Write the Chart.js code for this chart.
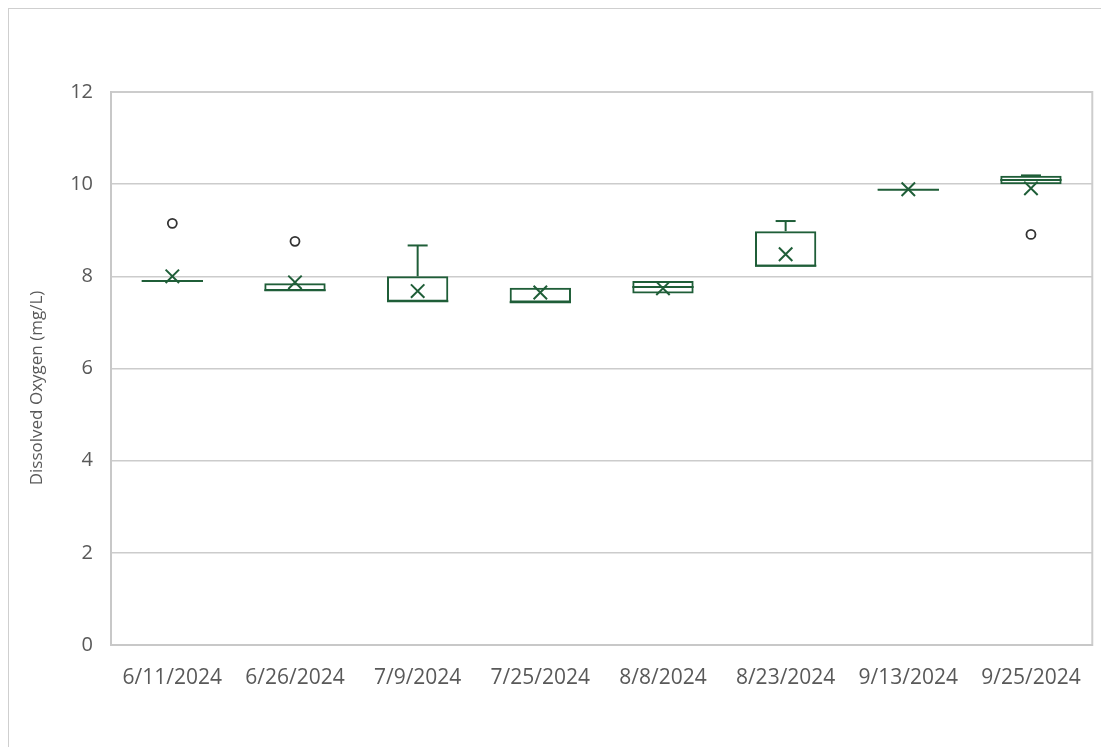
<!DOCTYPE html>
<html lang="en">
<head>
<meta charset="UTF-8">
<title>Dissolved Oxygen</title>
<script src="https://cdn.jsdelivr.net/npm/chart.js@4.4.1/dist/chart.umd.min.js"></script>
<style>
  html, body { margin: 0; padding: 0; background: #fff; }
  #wrap { position: relative; width: 1101px; height: 747px; }
  #frame { position: absolute; left: 8px; top: 8px; right: -2px; bottom: -2px;
           border-left: 1px solid #cfcfcf; border-top: 1px solid #cfcfcf; }
  canvas { position: absolute; left: 0; top: 0; }
</style>
</head>
<body>
<div id="wrap">
  <div id="frame"></div>
  <canvas id="myChart" width="1101" height="747"></canvas>
</div>
<script>
// sampling dates and box plot values (mg/L)
const dates = ['6/11/2024', '6/26/2024', '7/9/2024', '7/25/2024', '8/8/2024', '8/23/2024', '9/13/2024', '9/25/2024'];
const whiskerLow = [7.89, 7.68, 7.45, 7.43, 7.63, 8.21, 9.87, 10.0];
const q1 = [7.89, 7.68, 7.45, 7.43, 7.63, 8.21, 9.87, 10.0];
const median = [7.90, 7.70, 7.46, 7.44, 7.77, 8.23, 9.88, 10.09];
const q3 = [7.91, 7.85, 8.00, 7.75, 7.90, 8.98, 9.89, 10.18];
const whiskerHigh = [7.91, 7.85, 8.67, 7.75, 7.90, 9.20, 9.89, 10.19];
const means = [8.00, 7.87, 7.68, 7.65, 7.74, 8.48, 9.89, 9.91];
const outliers = [9.15, 8.76, null, null, null, null, null, 8.91];
const yTicks = [0, 2, 4, 6, 8, 10, 12];
const yTitle = 'Dissolved Oxygen (mg/L)';

const green = '#1f5e38';

const boxExtras = {
  id: 'boxExtras',
  afterDatasetsDraw(chart) {
    const ctx = chart.ctx;
    const xs = chart.scales.x, ys = chart.scales.y;
    const bars = chart.getDatasetMeta(0).data;
    ctx.save();
    ctx.strokeStyle = green;
    ctx.lineWidth = 2;
    dates.forEach((d, i) => {
      const cx = xs.getPixelForValue(i);
      const half = bars[i].width / 2;
      const cap = 10;
      const line = (x1, y1, x2, y2) => {
        ctx.beginPath(); ctx.moveTo(x1, y1); ctx.lineTo(x2, y2); ctx.stroke();
      };
      // whiskers
      if (whiskerHigh[i] > q3[i]) {
        line(cx, ys.getPixelForValue(q3[i]), cx, ys.getPixelForValue(whiskerHigh[i]));
        line(cx - cap, ys.getPixelForValue(whiskerHigh[i]), cx + cap, ys.getPixelForValue(whiskerHigh[i]));
      }
      if (whiskerLow[i] < q1[i]) {
        line(cx, ys.getPixelForValue(q1[i]), cx, ys.getPixelForValue(whiskerLow[i]));
        line(cx - cap, ys.getPixelForValue(whiskerLow[i]), cx + cap, ys.getPixelForValue(whiskerLow[i]));
      }
      // median
      const my = ys.getPixelForValue(median[i]);
      line(cx - half, my, cx + half, my);
    });
    ctx.restore();
  }
};

// y title drawn by hand so it can sit a bit below the plot centre like the original
const axisTitle = {
  id: 'axisTitle',
  afterDraw(chart) {
    const c = chart.ctx;
    c.save();
    c.translate(37, 388);
    c.rotate(-Math.PI / 2);
    c.font = '17px "Open Sans"';
    c.fillStyle = '#595959';
    c.textAlign = 'center';
    c.textBaseline = 'middle';
    c.fillText(yTitle, 0, 0);
    c.restore();
  }
};

const ctx = document.getElementById('myChart').getContext('2d');
const myChart = new Chart(ctx, {
  type: 'bar',
  data: {
    labels: dates,
    datasets: [
      {
        label: 'Box',
        data: q1.map((v, i) => [v, q3[i]]),
        backgroundColor: 'rgba(255,255,255,0)',
        borderColor: green,
        borderWidth: 2,
        borderSkipped: false,
        categoryPercentage: 1,
        barPercentage: 0.5,
        order: 2
      },
      {
        type: 'line',
        label: 'Mean',
        data: means,
        showLine: false,
        pointStyle: 'crossRot',
        pointRadius: 9.5,
        pointBorderColor: green,
        pointBorderWidth: 2,
        order: 1
      },
      {
        type: 'line',
        label: 'Outliers',
        data: outliers,
        showLine: false,
        pointStyle: 'circle',
        pointRadius: 4.5,
        pointBackgroundColor: '#fff',
        pointBorderColor: '#333',
        pointBorderWidth: 1.8,
        order: 0
      }
    ]
  },
  options: {
    responsive: false,
    animation: false,
    layout: { autoPadding: false, padding: { left: 0, top: 92, right: 5, bottom: 0 } },
    plugins: { legend: { display: false }, tooltip: { enabled: false } },
    scales: {
      x: {
        grid: { display: false, drawTicks: false },
        border: { display: true, color: '#c8c8c8', width: 2 },
        ticks: { color: '#595959', font: { family: 'Open Sans', size: 21 }, padding: 20, maxRotation: 0 },
        afterFit: (axis) => { axis.height = 102; }
      },
      y: {
        min: 0,
        max: 12,
        afterBuildTicks: (axis) => { axis.ticks = yTicks.map(v => ({ value: v })); },
        grid: { color: '#cccccc', lineWidth: 1.5, drawTicks: false },
        border: { display: true, color: '#c8c8c8', width: 2 },
        ticks: { color: '#595959', font: { family: 'Open Sans', size: 20 }, padding: 18 },
        afterFit: (axis) => { axis.width = 111; }
      }
    }
  },
  plugins: [
    boxExtras,
    axisTitle,
    {
      id: 'plotFrame',
      beforeDraw(chart) {
        const a = chart.chartArea, c = chart.ctx;
        c.save();
        c.strokeStyle = '#cdcdcd';
        c.lineWidth = 2;
        c.strokeRect(a.left, a.top, a.right - a.left, a.bottom - a.top);
        c.restore();
      }
    }
  ]
});
</script>
</body>
</html>
